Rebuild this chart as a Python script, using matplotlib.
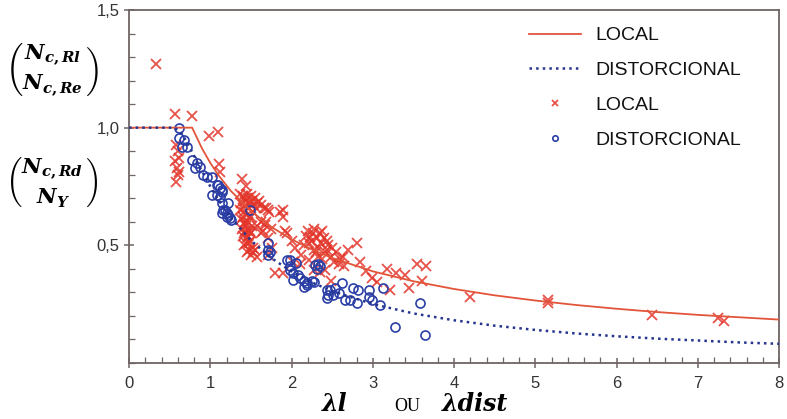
import matplotlib
matplotlib.use('Agg')
import matplotlib.pyplot as plt
from matplotlib.ticker import MultipleLocator, FuncFormatter

plt.rcParams['font.family'] = ['Liberation Sans', 'DejaVu Sans']
plt.rcParams['mathtext.fontset'] = 'custom'
plt.rcParams['mathtext.it'] = 'DejaVu Serif:italic:bold'
plt.rcParams['mathtext.rm'] = 'DejaVu Serif:bold'
plt.rcParams['mathtext.bf'] = 'DejaVu Serif:italic:bold'

# design curves
curve_local_x = [0.0, 0.776, 0.9, 1.0, 1.1, 1.25, 1.5, 1.75, 2.0, 2.25, 2.5, 3.0,
                 3.5, 4.0, 4.5, 5.0, 5.5, 6.0, 6.5, 7.0, 7.5, 8.0]
curve_local_y = [1.0, 1.0, 0.910, 0.850, 0.798, 0.732, 0.645, 0.578, 0.525, 0.482,
                 0.446, 0.389, 0.347, 0.314, 0.287, 0.265, 0.246, 0.230, 0.216,
                 0.204, 0.194, 0.184]
curve_dist_x = [0.0, 0.561, 0.65, 0.75, 0.875, 1.0, 1.1, 1.25, 1.5, 1.75, 2.0, 2.25,
                2.5, 3.0, 3.5, 4.0, 4.5, 5.0, 5.5, 6.0, 6.5, 7.0, 7.5, 8.0]
curve_dist_y = [1.0, 1.0, 0.974, 0.914, 0.829, 0.750, 0.693, 0.619, 0.520, 0.446,
                0.388, 0.342, 0.305, 0.250, 0.210, 0.181, 0.158, 0.140, 0.125,
                0.113, 0.103, 0.095, 0.087, 0.081]

# test results - local buckling
local_x = [0.33, 0.57, 0.78, 0.98, 1.10,
           0.58, 0.60, 0.57, 0.61, 0.59, 0.60, 0.58, 0.62,
           1.11, 1.12, 1.39, 1.44, 1.69, 1.71,
           1.36, 1.40, 1.45, 1.50, 1.55, 1.60,
           1.38, 1.43, 1.48, 1.53, 1.58,
           1.37, 1.42, 1.47, 1.52,
           1.38, 1.43, 1.48,
           1.39, 1.44, 1.49,
           1.40, 1.45, 1.50,
           1.42, 1.47, 1.52,
           1.45, 1.50, 1.55, 1.58,
           1.41, 1.46, 1.51, 1.56, 1.62, 1.66, 1.72,
           1.40, 1.45, 1.50, 1.41, 1.46, 1.51, 1.41, 1.46, 1.44, 1.49, 1.48, 1.53,
           1.40, 1.46, 1.43, 1.58, 1.62, 1.68, 1.75,
           1.90, 1.90, 1.92, 1.67, 1.71, 1.76, 1.80, 1.71, 1.86, 1.94, 1.90, 1.62, 1.65,
           2.20, 2.37, 2.25, 2.33, 2.41, 2.49, 2.60, 2.04, 2.21, 2.41, 2.49, 2.23,
           2.35, 2.43, 2.02, 2.10, 2.27, 2.35, 2.15, 2.30, 2.45, 2.55, 2.12, 2.28, 2.00,
           2.18, 2.22, 2.26, 2.31, 2.36, 2.40, 2.44, 2.50, 2.32, 2.38, 2.28, 2.52, 2.58, 2.63,
           2.80, 2.70, 2.84, 2.99, 3.05, 3.21, 3.17, 3.29, 3.40, 3.54, 3.66, 3.60,
           3.44, 2.65, 2.92,
           4.20, 5.15, 5.15, 6.44, 7.25, 7.32]
local_y = [1.27, 1.06, 1.05, 0.965, 0.98,
           0.925, 0.90, 0.86, 0.87, 0.83, 0.80, 0.77, 0.81,
           0.845, 0.81, 0.78, 0.75, 0.657, 0.65,
           0.72, 0.71, 0.72, 0.71, 0.70, 0.69,
           0.68, 0.69, 0.68, 0.67, 0.68,
           0.65, 0.64, 0.66, 0.64,
           0.61, 0.60, 0.62,
           0.57, 0.58, 0.56,
           0.54, 0.53, 0.55,
           0.50, 0.51, 0.49,
           0.47, 0.46, 0.48, 0.45,
           0.70, 0.70, 0.69, 0.66, 0.67, 0.66, 0.64,
           0.66, 0.63, 0.62, 0.59, 0.56, 0.58, 0.55, 0.54, 0.51, 0.52, 0.48, 0.47,
           0.62, 0.60, 0.56, 0.58, 0.55, 0.60, 0.57,
           0.65, 0.62, 0.56, 0.586, 0.53, 0.487, 0.38, 0.46, 0.64, 0.55, 0.38, 0.60, 0.56,
           0.56, 0.56, 0.52, 0.49, 0.47, 0.45, 0.44, 0.487, 0.437, 0.395, 0.35, 0.536,
           0.55, 0.52, 0.43, 0.42, 0.395, 0.388, 0.50, 0.47, 0.50, 0.47, 0.46, 0.57, 0.52,
           0.54, 0.51, 0.55, 0.53, 0.51, 0.53, 0.48, 0.49, 0.45, 0.44, 0.48, 0.43, 0.42, 0.45,
           0.508, 0.48, 0.43, 0.36, 0.345, 0.31, 0.40, 0.38, 0.374, 0.42, 0.41, 0.35,
           0.317, 0.41, 0.39,
           0.28, 0.267, 0.254, 0.204, 0.19, 0.18]

# test results - distortional buckling
dist_x = [0.62, 0.61, 0.67, 0.65, 0.71,
          0.77, 0.83, 0.81, 0.87, 0.91, 0.96, 1.02,
          1.10, 1.14, 1.12, 1.02, 1.14, 1.16, 1.14, 1.20,
          1.08, 1.12, 1.14, 1.08, 1.18, 1.20, 1.24,
          1.22, 1.22, 1.26, 1.49,
          1.71, 1.71, 1.74, 1.71,
          1.98, 2.06, 2.02, 2.08, 1.94, 1.98, 1.98,
          2.15, 2.19, 2.27, 2.02, 2.10, 2.15, 2.19, 2.25,
          2.29, 2.35, 2.31, 2.33,
          2.43, 2.45, 2.47, 2.53, 2.51, 2.58,
          2.43, 2.62, 2.66, 2.72, 2.80, 2.76, 2.82,
          2.95, 2.95, 2.99, 3.09, 3.13,
          3.58, 3.27, 3.64]
dist_y = [0.997, 0.954, 0.947, 0.918, 0.918,
          0.862, 0.848, 0.827, 0.834, 0.798, 0.791, 0.791,
          0.756, 0.735, 0.706, 0.713, 0.678, 0.65, 0.636, 0.636,
          0.756, 0.742, 0.727, 0.713, 0.65, 0.62, 0.614,
          0.678, 0.628, 0.607, 0.65,
          0.508, 0.48, 0.473, 0.46,
          0.437, 0.423, 0.38, 0.374, 0.437, 0.41, 0.395,
          0.35, 0.33, 0.345, 0.352, 0.36, 0.324, 0.338, 0.35,
          0.416, 0.41, 0.40, 0.42,
          0.31, 0.29, 0.31, 0.317, 0.289, 0.296,
          0.275, 0.338, 0.268, 0.268, 0.253, 0.317, 0.31,
          0.31, 0.28, 0.268, 0.246, 0.317,
          0.253, 0.154, 0.119]

RED = '#e3352a'
BLUE = '#2b3ea6'

fig = plt.figure(figsize=(7.87, 4.19), dpi=100)
ax = fig.add_axes([0.164, 0.134, 0.826, 0.842])

ax.plot(local_x, local_y, 'x', color=RED, ms=6.5, mew=1.3, alpha=0.85, zorder=3,
        label='LOCAL')
ax.plot(dist_x, dist_y, 'o', mfc='none', mec=BLUE, ms=6.5, mew=1.2, zorder=4,
        label='DISTORCIONAL')
ax.plot(curve_local_x, curve_local_y, '-', color='#e2553a', lw=1.3, zorder=5,
        label='LOCAL')
ax.plot(curve_dist_x, curve_dist_y, ':', color='#25358f', lw=1.8, zorder=5,
        label='DISTORCIONAL')

ax.set_xlim(0, 8)
ax.set_ylim(0, 1.5)
ax.xaxis.set_major_locator(MultipleLocator(1))
ax.xaxis.set_minor_locator(MultipleLocator(0.2))
ax.set_yticks([0.5, 1.0, 1.5])
ax.yaxis.set_minor_locator(MultipleLocator(0.1))
ax.yaxis.set_major_formatter(FuncFormatter(lambda v, p: ('%.1f' % v).replace('.', ',')))

for s in ax.spines.values():
    s.set_color('#6f6565')
    s.set_linewidth(1.3)
ax.tick_params(which='major', direction='inout', length=7, width=1.1, color='#6f6565',
               labelsize=12, labelcolor='#333333')
ax.tick_params(which='minor', direction='in', length=4, width=0.9, color='#6f6565')
ax.tick_params(axis='x', pad=6)

h = ax.get_legend_handles_labels()[0]
leg = ax.legend([h[2], h[3], h[0], h[1]], ['LOCAL', 'DISTORCIONAL', 'LOCAL', 'DISTORCIONAL'],
                loc='upper left', bbox_to_anchor=(0.672, 0.936), bbox_transform=fig.transFigure,
                frameon=False, borderpad=0, borderaxespad=0, markerscale=0.6,
                fontsize=14, labelspacing=0.88, handlelength=2.7, handletextpad=0.7)
for t in leg.get_texts():
    t.set_color('#111111')

# y axis labels
fig.text(0.066, 0.833, r'$\binom{N_{c,Rl}}{N_{c,Re}}$', ha='center', va='center', fontsize=22)
fig.text(0.066, 0.566, r'$\binom{N_{c,Rd}}{N_Y}$', ha='center', va='center', fontsize=22)

# x axis label
fig.text(0.425, 0.035, 'λl', family='DejaVu Serif', style='italic', weight='bold',
         fontsize=17, ha='center', va='center')
fig.text(0.517, 0.03, 'OU', family='Liberation Serif', fontsize=13, ha='center', va='center')
fig.text(0.603, 0.035, 'λdist', family='DejaVu Serif', style='italic', weight='bold',
         fontsize=17, ha='center', va='center')

plt.savefig('out.png', dpi=100)
